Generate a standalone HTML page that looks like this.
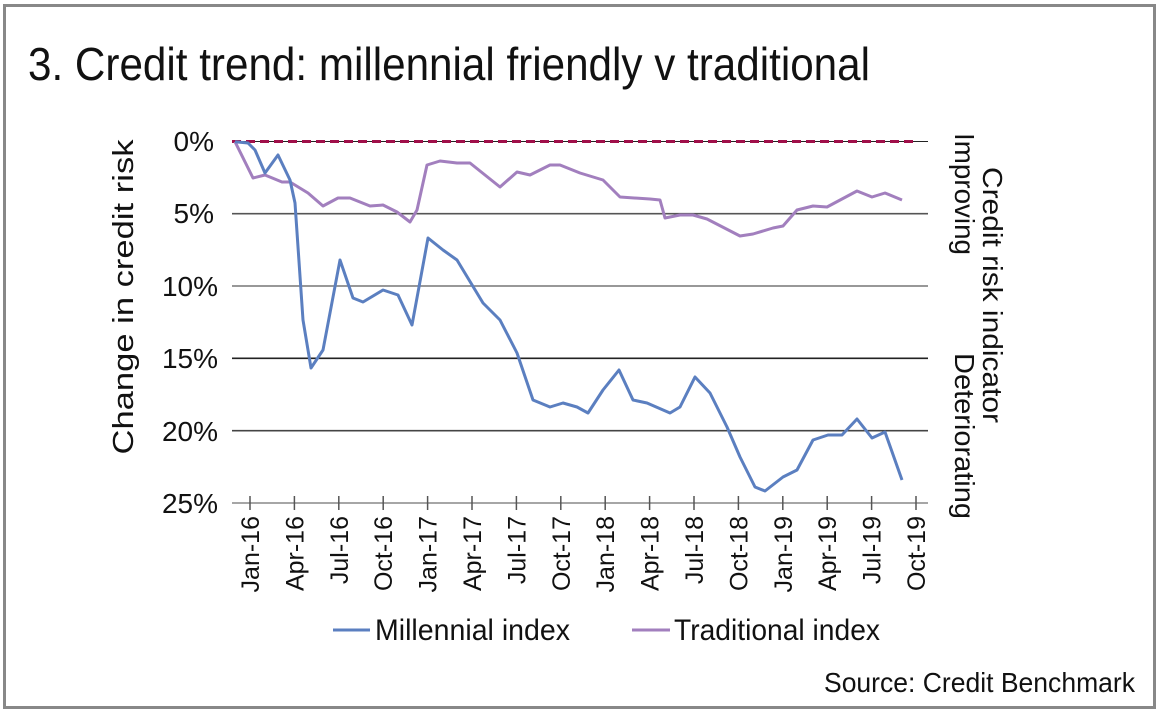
<!DOCTYPE html>
<html><head><meta charset="utf-8"><style>
html,body{margin:0;padding:0;background:#fff;}
svg{display:block;}
text{font-family:"Liberation Sans Narrow","Liberation Sans",sans-serif;fill:#111;}
</style></head><body>
<svg width="1160" height="716" viewBox="0 0 1160 716" xmlns="http://www.w3.org/2000/svg">
<rect x="0" y="0" width="1160" height="716" fill="#fff"/>
<rect x="4.5" y="5.5" width="1150" height="702" fill="none" stroke="#888" stroke-width="3"/>
<text x="28" y="80" font-size="46" textLength="842" lengthAdjust="spacingAndGlyphs">3. Credit trend: millennial friendly v traditional</text>
<g stroke-width="1.6">
<line x1="232" y1="213.7" x2="928" y2="213.7" stroke="#555"/>
<line x1="232" y1="286" x2="928" y2="286" stroke="#777"/>
<line x1="232" y1="358.3" x2="928" y2="358.3" stroke="#222"/>
<line x1="232" y1="430.7" x2="928" y2="430.7" stroke="#444"/>
<line x1="232" y1="503" x2="928" y2="503" stroke="#888"/>
<line x1="232" y1="141.5" x2="928" y2="141.5" stroke="#222" stroke-width="1"/>
</g>
<line x1="232" y1="141.5" x2="915" y2="141.5" stroke="#a0104a" stroke-width="3" stroke-dasharray="9,5"/>
<g stroke="#555" stroke-width="1.5">
<line x1="250" y1="496" x2="250" y2="510"/><line x1="294.4" y1="496" x2="294.4" y2="510"/>
<line x1="338.8" y1="496" x2="338.8" y2="510"/><line x1="383.2" y1="496" x2="383.2" y2="510"/>
<line x1="427.6" y1="496" x2="427.6" y2="510"/><line x1="472" y1="496" x2="472" y2="510"/>
<line x1="516.4" y1="496" x2="516.4" y2="510"/><line x1="560.8" y1="496" x2="560.8" y2="510"/>
<line x1="605.2" y1="496" x2="605.2" y2="510"/><line x1="649.6" y1="496" x2="649.6" y2="510"/>
<line x1="694" y1="496" x2="694" y2="510"/><line x1="738.4" y1="496" x2="738.4" y2="510"/>
<line x1="782.8" y1="496" x2="782.8" y2="510"/><line x1="827.2" y1="496" x2="827.2" y2="510"/>
<line x1="871.6" y1="496" x2="871.6" y2="510"/><line x1="916" y1="496" x2="916" y2="510"/>
</g>
<g font-size="28" text-anchor="end">
<text x="214" y="151">0%</text><text x="214" y="223">5%</text>
<text x="218" y="296">10%</text><text x="218" y="368">15%</text>
<text x="218" y="441">20%</text><text x="218" y="513">25%</text>
</g>
<g font-size="25" text-anchor="end">
<text transform="translate(259,516) rotate(-90)">Jan-16</text>
<text transform="translate(303.4,516) rotate(-90)">Apr-16</text>
<text transform="translate(347.8,516) rotate(-90)">Jul-16</text>
<text transform="translate(392.2,516) rotate(-90)">Oct-16</text>
<text transform="translate(436.6,516) rotate(-90)">Jan-17</text>
<text transform="translate(481,516) rotate(-90)">Apr-17</text>
<text transform="translate(525.4,516) rotate(-90)">Jul-17</text>
<text transform="translate(569.8,516) rotate(-90)">Oct-17</text>
<text transform="translate(614.2,516) rotate(-90)">Jan-18</text>
<text transform="translate(658.6,516) rotate(-90)">Apr-18</text>
<text transform="translate(703,516) rotate(-90)">Jul-18</text>
<text transform="translate(747.4,516) rotate(-90)">Oct-18</text>
<text transform="translate(791.8,516) rotate(-90)">Jan-19</text>
<text transform="translate(836.2,516) rotate(-90)">Apr-19</text>
<text transform="translate(880.6,516) rotate(-90)">Jul-19</text>
<text transform="translate(925,516) rotate(-90)">Oct-19</text>
</g>
<polyline fill="none" stroke="#a27fbe" stroke-width="3" stroke-linejoin="round" points="235,141.7 253,178 265,175 282,182 290,182 308,193 323,206 338,198 350,198 370,206 383,205 397,212 410,222 417,210 427,165 440,161 457,163 470,163 500,187 517,172 530,175 550,165 560,165 580,173 603,180 620,197 650,199 660,200 665,218 680,215 693,215 707,219 740,236 753,234 773,228 783,226 797,210 813,206 827,207 857,191 872,197 885,193 902,200"/>
<polyline fill="none" stroke="#5b7fc0" stroke-width="3" stroke-linejoin="round" points="235,141.7 248,143 255,150 265,173 278,155 290,180 295,203 303,320 311,368 323,350 340,260 353,298 363,302 383,290 398,295 412,325 428,238 443,250 457,260 483,303 500,320 517,353 533,400 550,407 563,403 577,407 588,413 603,390 619,370 633,400 647,403 670,413 680,407 695,377 710,393 727,427 740,457 755,487 765,491 783,477 797,470 813,440 828,435 842,435 857,419 872,438 885,432 902,480"/>
<text transform="translate(133,297) rotate(-90)" font-size="29" text-anchor="middle" style="font-family:'Liberation Sans',sans-serif" textLength="315" lengthAdjust="spacingAndGlyphs">Change in credit risk</text>
<g font-size="28" style="font-family:'Liberation Sans',sans-serif">
<text transform="translate(983,167) rotate(90)" textLength="256" lengthAdjust="spacingAndGlyphs">Credit risk indicator</text>
<text transform="translate(955,133) rotate(90)" textLength="122" lengthAdjust="spacingAndGlyphs">Improving</text>
<text transform="translate(955,353) rotate(90)" textLength="166" lengthAdjust="spacingAndGlyphs">Deteriorating</text>
</g>
<line x1="333" y1="630" x2="370" y2="630" stroke="#5b7fc0" stroke-width="3"/>
<text x="375" y="640" font-size="30" textLength="195" lengthAdjust="spacingAndGlyphs">Millennial index</text>
<line x1="632" y1="630" x2="670" y2="630" stroke="#a27fbe" stroke-width="3"/>
<text x="674" y="640" font-size="30" textLength="206" lengthAdjust="spacingAndGlyphs">Traditional index</text>
<text x="824" y="692" font-size="28" textLength="311" lengthAdjust="spacingAndGlyphs">Source: Credit Benchmark</text>
</svg>
</body></html>
